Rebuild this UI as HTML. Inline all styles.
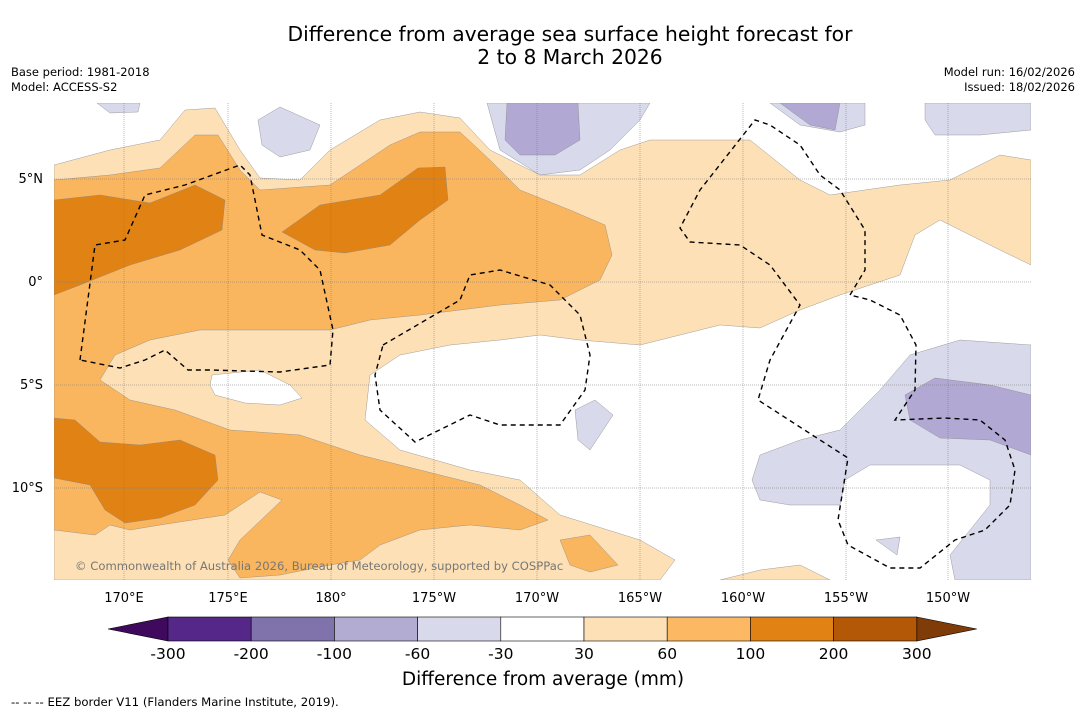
<!DOCTYPE html>
<html><head><meta charset="utf-8"><style>
body{margin:0;background:#fff;font-family:"DejaVu Sans",sans-serif;}
svg{display:block}
text{font-family:"DejaVu Sans",sans-serif;}
</style></head><body>
<svg width="1085" height="713" viewBox="0 0 1085 713">
<text x="570" y="41" text-anchor="middle" font-size="20.3">Difference from average sea surface height forecast for</text>
<text x="570" y="64" text-anchor="middle" font-size="20.3">2 to 8 March 2026</text>
<text x="11" y="76" font-size="11.5">Base period: 1981-2018</text>
<text x="11" y="91" font-size="11.5">Model: ACCESS-S2</text>
<text x="1075" y="76" font-size="11.5" text-anchor="end">Model run: 16/02/2026</text>
<text x="1075" y="91" font-size="11.5" text-anchor="end">Issued: 18/02/2026</text>
<defs><clipPath id="mc"><rect x="54" y="103" width="977" height="477"/></clipPath></defs>
<g clip-path="url(#mc)">
<rect x="54" y="103" width="977" height="477" fill="#fff"/>
<g stroke="#888" stroke-width="0.4">
<polygon fill="#fde0b6" points="54,165 110,150 160,140 185,110 215,108 240,150 260,178 300,180 330,150 380,120 420,112 460,118 490,150 540,175 580,175 620,150 650,140 750,140 800,180 830,195 900,185 950,180 1000,155 1031,160 1031,265 1000,250 940,220 915,235 900,275 840,295 800,310 760,328 720,325 640,345 580,340 540,335 500,340 450,345 400,355 370,375 365,420 400,450 470,470 520,480 560,515 640,540 675,560 660,580 54,580 54,555"/>
<polygon fill="#fff" points="212,375 260,370 290,385 302,398 280,405 245,403 215,395 210,385"/>
<polygon fill="#fde0b6" points="720,580 760,570 800,565 830,580"/>
<polygon fill="#fab65e" points="54,180 110,175 160,168 195,135 218,135 240,170 260,190 330,185 390,145 420,132 460,132 490,160 520,190 570,210 605,225 612,255 600,280 560,300 500,305 420,315 370,320 330,330 270,330 200,330 150,340 115,355 100,380 130,400 175,410 230,430 300,435 360,455 420,470 480,485 520,505 548,520 520,530 470,525 420,530 380,545 360,560 330,565 280,575 240,578 228,560 240,540 282,500 260,492 225,515 160,525 130,530 110,525 95,535 54,530"/>
<polygon fill="#fab65e" points="560,540 590,535 618,565 590,572 570,565"/>
<polygon fill="#e08214" points="54,200 100,195 150,203 195,185 225,200 222,230 180,250 130,265 80,285 54,295"/>
<polygon fill="#e08214" points="282,232 320,205 380,195 418,168 445,167 448,200 420,220 390,245 345,253 315,250"/>
<polygon fill="#e08214" points="54,418 75,420 100,442 140,445 180,440 215,455 218,480 195,505 160,518 125,523 105,510 90,485 54,478"/>
<polygon fill="#d8d9ea" points="97,103 140,103 138,112 110,113"/>
<polygon fill="#d8d9ea" points="258,120 280,107 320,125 310,150 280,157 262,145"/>
<polygon fill="#d8d9ea" points="487,103 650,103 640,120 610,150 580,170 540,175 500,150"/>
<polygon fill="#b1a9d3" points="507,103 578,103 580,140 555,155 520,155 505,140"/>
<polygon fill="#d8d9ea" points="770,103 865,103 865,125 840,132 800,125"/>
<polygon fill="#b1a9d3" points="780,103 840,103 835,130 810,125"/>
<polygon fill="#d8d9ea" points="925,103 1031,103 1031,130 980,135 935,135 925,120"/>
<polygon fill="#d8d9ea" points="760,455 800,440 840,430 880,390 910,355 960,340 1031,345 1031,580 955,580 950,555 990,505 990,480 960,465 870,465 845,480 840,505 790,505 760,500 752,480"/>
<polygon fill="#b1a9d3" points="905,395 935,378 990,385 1031,395 1031,455 990,440 940,438 910,420"/>
<polygon fill="#d8d9ea" points="575,410 595,400 613,415 590,450 578,440"/>
<polygon fill="#d8d9ea" points="876,540 900,537 897,555"/>
</g>
<g stroke="#777" stroke-width="0.5" stroke-dasharray="1,1">
<line x1="124" y1="103" x2="124" y2="580"/><line x1="228" y1="103" x2="228" y2="580"/><line x1="331" y1="103" x2="331" y2="580"/><line x1="434" y1="103" x2="434" y2="580"/><line x1="537" y1="103" x2="537" y2="580"/><line x1="640" y1="103" x2="640" y2="580"/><line x1="743" y1="103" x2="743" y2="580"/><line x1="846" y1="103" x2="846" y2="580"/><line x1="948" y1="103" x2="948" y2="580"/>
<line x1="54" y1="179" x2="1031" y2="179"/><line x1="54" y1="282" x2="1031" y2="282"/><line x1="54" y1="385" x2="1031" y2="385"/><line x1="54" y1="488" x2="1031" y2="488"/>
</g>
<g fill="none" stroke="#000" stroke-width="1.4" stroke-dasharray="5,4">
<polyline points="80,360 95,245 125,240 145,195 185,185 240,165 250,175 262,235 300,250 320,270 333,330 330,365 280,372 210,370 188,370 165,350 145,360 120,368 80,360"/>
<polyline points="383,345 460,300 470,275 500,270 550,285 580,315 590,355 585,390 560,425 500,425 470,415 415,442 380,410 375,375 383,345"/>
<polyline points="850,295 865,270 865,230 840,190 820,175 800,145 770,125 755,120 700,190 680,228 690,242 740,245 770,265 800,305 770,360 758,400 848,458 838,520 848,545 890,568 920,568 955,540 985,530 1010,505 1015,470 1005,440 980,420 945,418 895,420 915,390 916,345 900,315 870,300 850,295"/>
</g>
<text x="75" y="570" font-size="11.6" fill="#777">© Commonwealth of Australia 2026, Bureau of Meteorology, supported by COSPPac</text>
</g>
<g font-size="13">
<text x="43" y="183" text-anchor="end">5°N</text><text x="43" y="286" text-anchor="end">0°</text><text x="43" y="389" text-anchor="end">5°S</text><text x="43" y="492" text-anchor="end">10°S</text>
</g>
<g font-size="13" text-anchor="middle">
<text x="124" y="602">170°E</text><text x="228" y="602">175°E</text><text x="331" y="602">180°</text><text x="434" y="602">175°W</text><text x="537" y="602">170°W</text><text x="640" y="602">165°W</text><text x="743" y="602">160°W</text><text x="846" y="602">155°W</text><text x="948" y="602">150°W</text>
</g>
<g id="cbar"></g>
<text x="543" y="685" text-anchor="middle" font-size="18.5">Difference from average (mm)</text>
<text x="11" y="706" font-size="11.7">--  --  -- EEZ border V11 (Flanders Marine Institute, 2019).</text>
</svg>
<script>
const cbTicks=["-300","-200","-100","-60","-30","30","60","100","200","300"];
const cbColors=["#542788","#8073ac","#b2abd2","#d8daeb","#ffffff","#fee0b6","#fdb863","#e08214","#b35806"];
const cbEnds=["#3f0a5e","#7f3b08"];
const NS="http://www.w3.org/2000/svg";
const g=document.getElementById('cbar');
const x0=168,w=83.2,y0=617,h=24;
function mk(t,a){const e=document.createElementNS(NS,t);for(const k in a)e.setAttribute(k,a[k]);g.appendChild(e);return e;}
const lt=mk('polygon',{points:`108,${y0+h/2} ${x0},${y0} ${x0},${y0+h}`,fill:cbEnds[0],stroke:'#000','stroke-width':0.6});


const xe=x0+w*cbColors.length;
const rt=mk('polygon',{points:`${xe},${y0} ${xe+60},${y0+h/2} ${xe},${y0+h}`,fill:cbEnds[1],stroke:'#000','stroke-width':0.6});


cbColors.forEach((c,i)=>{
 const r=mk('rect',{x:x0+i*w,y:y0,width:w,height:h,fill:c,stroke:'#000','stroke-width':0.6});
 
 
});
cbTicks.forEach((t,i)=>{
 const e=mk('text',{x:x0+i*w,y:659,'text-anchor':'middle','font-size':15.5});
 e.textContent=t;
 
 
});
</script>
</body></html>
